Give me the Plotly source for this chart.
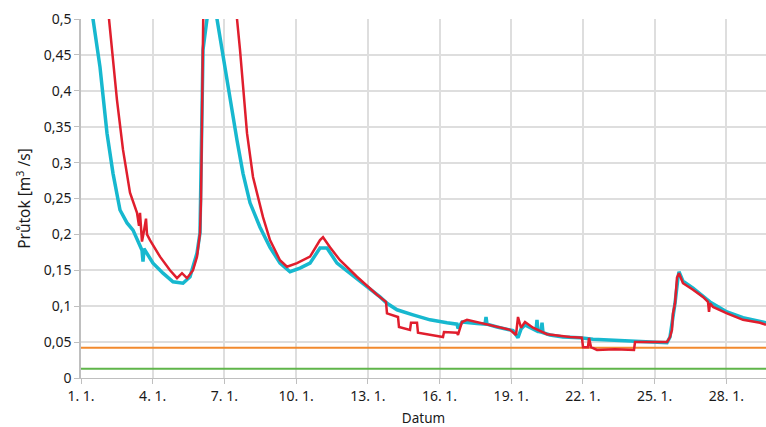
import pandas as pd
import plotly.graph_objects as go

# Day of January (fractional) and flow values [m3/s]
cyan_day = [1.000, 1.251, 1.502, 1.795, 2.088, 2.339, 2.632, 2.925, 3.176, 3.469, 3.552, 3.594, 3.636,
            4.013, 4.431, 4.849, 5.268, 5.561, 5.854, 5.979, 6.063, 6.105, 6.272, 6.481, 6.690, 6.941,
            7.234, 7.527, 7.778, 8.071, 8.490, 8.908, 9.326, 9.745, 10.163, 10.582, 11.000, 11.293,
            11.711, 12.255, 12.967, 13.510, 13.803, 14.222, 14.891, 15.603, 16.314, 16.732, 16.774,
            16.941, 17.569, 17.904, 17.946, 17.988, 18.406, 19.075, 19.285, 19.410, 19.577, 20.037,
            20.079, 20.121, 20.247, 20.289, 20.331, 20.623, 21.167, 21.879, 22.423, 23.134, 24.096,
            25.519, 25.644, 25.770, 25.854, 25.979, 26.021, 26.188, 26.607, 27.318, 28.029, 28.699, 29.661]
cyan_val = [0.70, 0.59, 0.50, 0.433, 0.341, 0.285, 0.234, 0.216, 0.206, 0.185, 0.178, 0.162, 0.180,
            0.160, 0.146, 0.134, 0.132, 0.141, 0.174, 0.202, 0.341, 0.457, 0.50, 0.56, 0.50, 0.447,
            0.387, 0.331, 0.285, 0.244, 0.210, 0.182, 0.160, 0.148, 0.153, 0.160, 0.181, 0.181,
            0.160, 0.146, 0.127, 0.113, 0.104, 0.095, 0.088, 0.081, 0.077, 0.075, 0.069,
            0.078, 0.076, 0.075, 0.085, 0.075, 0.071, 0.066, 0.056, 0.068, 0.074, 0.066,
            0.081, 0.065, 0.064, 0.077, 0.063, 0.060, 0.057, 0.056, 0.054, 0.053, 0.051,
            0.049, 0.057, 0.081, 0.104, 0.140, 0.148, 0.135, 0.125, 0.106, 0.092, 0.084, 0.077]

red_day = [1.000, 1.500, 2.172, 2.506, 2.757, 3.050, 3.343, 3.427, 3.469, 3.552, 3.636, 3.720, 3.762,
           3.887, 4.305, 4.724, 5.017, 5.226, 5.435, 5.686, 5.854, 5.979, 6.021, 6.063, 6.105, 6.188,
           6.607, 7.234, 7.527, 7.653, 7.946, 8.197, 8.615, 8.908, 9.326, 9.619, 10.038, 10.582,
           11.000, 11.126, 11.418, 11.837, 12.548, 13.385, 13.762, 13.803, 14.264, 14.305, 14.766,
           14.808, 15.059, 15.100, 15.603, 16.146, 16.188, 16.732, 16.774, 16.941, 17.151, 17.695,
           18.950, 19.201, 19.285, 19.410, 19.577, 19.912, 20.498, 21.460, 21.962, 22.004, 22.213,
           22.255, 22.339, 22.590, 23.343, 24.138, 24.180, 25.519, 25.644, 25.728, 25.770, 25.854,
           25.937, 26.021, 26.188, 26.607, 27.025, 27.234, 27.276, 27.318, 27.444, 28.029, 28.699,
           29.410, 29.661]
red_val = [0.95, 0.72, 0.50, 0.387, 0.318, 0.258, 0.230, 0.212, 0.230, 0.190, 0.205, 0.222, 0.200,
           0.192, 0.169, 0.150, 0.139, 0.146, 0.139, 0.150, 0.169, 0.202, 0.248, 0.387, 0.50, 0.70,
           0.90, 0.62, 0.50, 0.457, 0.341, 0.280, 0.224, 0.192, 0.164, 0.155, 0.160, 0.169,
           0.192, 0.196, 0.182, 0.164, 0.141, 0.116, 0.106, 0.090, 0.085, 0.071, 0.067,
           0.077, 0.077, 0.063, 0.060, 0.057, 0.064, 0.063, 0.060, 0.078, 0.081, 0.077,
           0.067, 0.060, 0.085, 0.070, 0.078, 0.070, 0.061, 0.057, 0.056, 0.043, 0.043,
           0.056, 0.043, 0.039, 0.040, 0.039, 0.050, 0.050, 0.057, 0.067, 0.090, 0.104,
           0.140, 0.146, 0.132, 0.123, 0.113, 0.106, 0.092, 0.104, 0.099, 0.090, 0.081,
           0.077, 0.074]

limit_day = [1.0, 29.661]
orange_val = [0.042, 0.042]
green_val = [0.013, 0.013]

base = pd.Timestamp("2021-01-01")


def to_dt(days):
    return [base + pd.Timedelta(days=d - 1) for d in days]


fig = go.Figure()
fig.add_trace(go.Scatter(x=to_dt(limit_day), y=green_val, mode="lines",
                         line=dict(color="#5fb54a", width=2), showlegend=False))
fig.add_trace(go.Scatter(x=to_dt(limit_day), y=orange_val, mode="lines",
                         line=dict(color="#f28a2e", width=2), showlegend=False))
fig.add_trace(go.Scatter(x=to_dt(cyan_day), y=cyan_val, mode="lines",
                         line=dict(color="#17b8cf", width=3.5), showlegend=False))
fig.add_trace(go.Scatter(x=to_dt(red_day), y=red_val, mode="lines",
                         line=dict(color="#e01e2d", width=2.5), showlegend=False))

font = "Noto Sans"
fig.update_layout(
    width=766, height=427,
    margin=dict(l=81, r=0, t=19, b=49),
    paper_bgcolor="white", plot_bgcolor="white",
    separators=", ",
    font=dict(family=font, size=14, color="#1a1a1a"),
    hovermode=False,
)
fig.update_xaxes(
    range=[to_dt([1.0])[0], to_dt([29.661])[0]],
    tick0=base, dtick=3 * 86400000, tickformat="%-d. %-m.",
    showgrid=True, gridcolor="#dedede", gridwidth=1.5,
    showline=True, linecolor="#bfbfbf", linewidth=1,
    ticks="outside", ticklen=5, tickcolor="#bfbfbf",
    title=dict(text="Datum", font=dict(size=13.5), standoff=10),
    automargin=False,
)
fig.update_yaxes(
    range=[0, 0.5], dtick=0.05, tick0=0,
    showgrid=True, gridcolor="#dedede", gridwidth=1.5, zeroline=False,
    showline=True, linecolor="#bfbfbf", linewidth=1.5,
    ticks="outside", ticklen=5, tickcolor="#bfbfbf",
    title=dict(text="Průtok [m<sup>3</sup> /s]", font=dict(size=15.5), standoff=9),
    automargin=False,
)

fig.write_html("out.html", config={"displayModeBar": False},
               post_script="document.body.style.margin='0';document.body.style.overflow='hidden';")
